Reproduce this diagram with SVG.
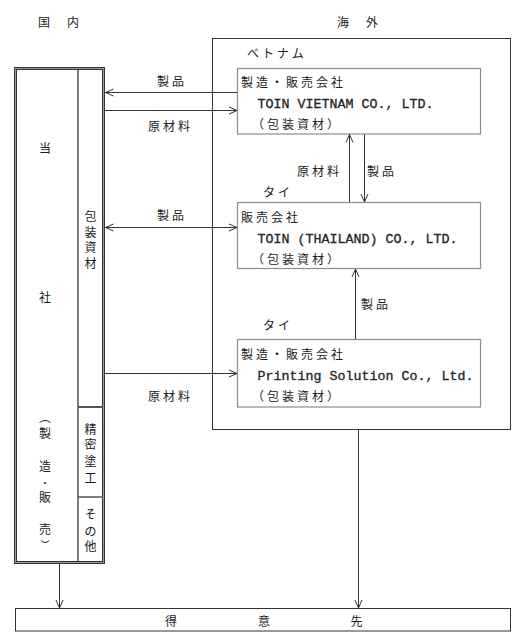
<svg xmlns="http://www.w3.org/2000/svg" width="513" height="639" viewBox="0 0 513 639">
<style>
.t{font-family:"Noto Sans CJK JP","Noto Sans",sans-serif;font-size:12px;letter-spacing:3px;fill:#1a1a1a}
.v{font-family:"Noto Sans CJK JP","Noto Sans",sans-serif;font-size:12px;fill:#1a1a1a;text-anchor:middle}
.s{font-size:9px}
.l{font-family:"Liberation Mono",monospace;font-size:13.33px;fill:#222;stroke:#222;stroke-width:0.3}
.box{fill:#fff;stroke:#8c8c8c;stroke-width:1.2}
.frame{fill:none;stroke:#333;stroke-width:1}
.c{fill:none;stroke:#333;stroke-width:1}
</style>
<defs>
<marker id="ah" viewBox="-10 -5 11 10" refX="0" refY="0" markerWidth="11" markerHeight="10" markerUnits="userSpaceOnUse" orient="auto-start-reverse">
<path d="M-8,-3.5 L0,0 L-8,3.5" fill="none" stroke="#333" stroke-width="1"/>
</marker>
</defs>
<rect width="513" height="639" fill="#fff"/>

<g id="headers">
<text class="t" x="38" y="27">国</text>
<text class="t" x="67" y="27">内</text>
<text class="t" x="337" y="27">海</text>
<text class="t" x="366" y="27">外</text>
</g>

<g id="overseas">
<rect class="frame" x="212.5" y="38.5" width="298" height="391"/>
<text class="t" x="247" y="58">ベトナム</text>
<text class="t" x="263" y="197">タイ</text>
<text class="t" x="263" y="330">タイ</text>
</g>

<g id="company">
<rect x="15.5" y="68.5" width="88" height="494" fill="#fff" stroke="#999" stroke-width="3"/>
<rect x="14.5" y="67.5" width="90" height="496" fill="none" stroke="#333" stroke-width="1"/>
<rect x="16.5" y="69.5" width="86" height="492" fill="none" stroke="#333" stroke-width="1"/>
<line x1="78" y1="69" x2="78" y2="562" stroke="#333" stroke-width="1.3"/>
<line x1="78" y1="407" x2="103" y2="407" stroke="#555" stroke-width="2"/>
<line x1="78" y1="497" x2="103" y2="497" stroke="#555" stroke-width="1.5"/>
<text class="v" x="45" y="152.5">当</text>
<text class="v" x="45" y="301.5">社</text>
<text class="v"><tspan x="45" y="422">︵</tspan><tspan x="45" y="437.5">製</tspan><tspan x="45" y="470.5">造</tspan><tspan class="s" x="45" y="486">・</tspan><tspan x="45" y="502">販</tspan><tspan x="45" y="533.5">売</tspan><tspan class="s" x="45" y="548">︶</tspan></text>
<text class="v"><tspan x="90.5" y="220.5">包</tspan><tspan x="90.5" y="236.5">装</tspan><tspan x="90.5" y="252">資</tspan><tspan x="90.5" y="267.5">材</tspan></text>
<text class="v"><tspan x="90.5" y="433.5">精</tspan><tspan x="90.5" y="449">密</tspan><tspan x="90.5" y="465.5">塗</tspan><tspan x="90.5" y="482.5">工</tspan></text>
<text class="v"><tspan x="90.5" y="518.5">そ</tspan><tspan x="90.5" y="535.5">の</tspan><tspan x="90.5" y="551">他</tspan></text>
</g>

<g id="vietnam">
<rect class="box" x="237.5" y="68.5" width="243" height="65.5"/>
<text class="t" x="241" y="87">製造・販売会社</text>
<text class="l" x="257.5" y="108">TOIN VIETNAM CO., LTD.</text>
<text class="t" x="252" y="129">（包装資材）</text>
</g>

<g id="thailand">
<rect class="box" x="237.5" y="202.5" width="243" height="66"/>
<text class="t" x="241" y="222">販売会社</text>
<text class="l" x="257.5" y="243">TOIN (THAILAND) CO., LTD.</text>
<text class="t" x="252" y="264">（包装資材）</text>
</g>

<g id="printing">
<rect class="box" x="237.5" y="339.5" width="243" height="67.5"/>
<text class="t" x="241" y="359">製造・販売会社</text>
<text class="l" x="257.5" y="380">Printing Solution Co., Ltd.</text>
<text class="t" x="252" y="401">（包装資材）</text>
</g>

<g id="customer">
<rect class="frame" x="15.5" y="608.5" width="495" height="22.5"/>
<text class="t" x="165" y="626">得</text>
<text class="t" x="258" y="626">意</text>
<text class="t" x="350.5" y="626">先</text>
</g>

<g id="connectors">
<line class="c" x1="237" y1="92.5" x2="105.5" y2="92.5" marker-end="url(#ah)"/>
<line class="c" x1="105" y1="110.5" x2="237" y2="110.5" marker-end="url(#ah)"/>
<line class="c" x1="105.5" y1="227.5" x2="237" y2="227.5" marker-start="url(#ah)" marker-end="url(#ah)"/>
<line class="c" x1="105" y1="373.5" x2="237" y2="373.5" marker-end="url(#ah)"/>
<line class="c" x1="349.5" y1="202" x2="349.5" y2="134.5" marker-end="url(#ah)"/>
<line class="c" x1="364.5" y1="134.5" x2="364.5" y2="202" marker-end="url(#ah)"/>
<line class="c" x1="355.5" y1="339" x2="355.5" y2="269" marker-end="url(#ah)"/>
<line class="c" x1="59.5" y1="564" x2="59.5" y2="608" marker-end="url(#ah)"/>
<line class="c" x1="358.5" y1="430" x2="358.5" y2="608" marker-end="url(#ah)"/>
<text class="t" x="157" y="86">製品</text>
<text class="t" x="148" y="131">原材料</text>
<text class="t" x="157" y="220">製品</text>
<text class="t" x="148" y="401">原材料</text>
<text class="t" x="297" y="176">原材料</text>
<text class="t" x="367" y="176">製品</text>
<text class="t" x="361" y="309">製品</text>
</g>
</svg>
